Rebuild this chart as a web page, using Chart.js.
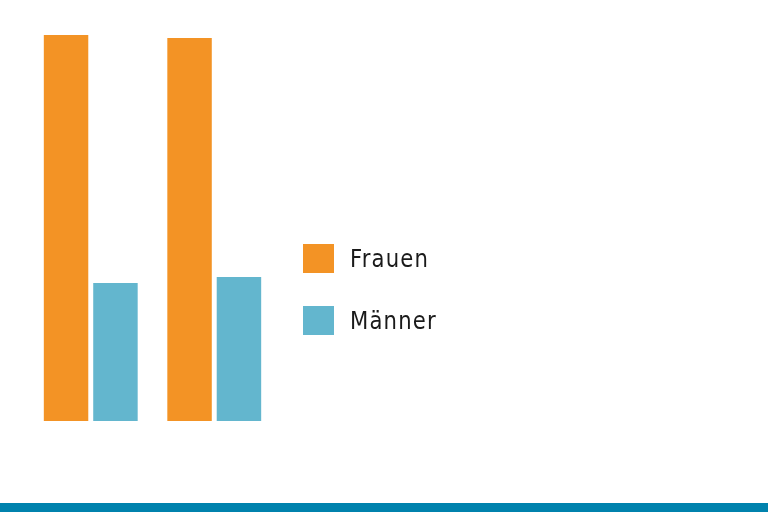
<!DOCTYPE html>
<html>
<head>
<meta charset="utf-8">
<script src="https://cdn.jsdelivr.net/npm/chart.js@4/dist/chart.umd.min.js"></script>
<style>
  html, body { margin: 0; padding: 0; background: #fff; }
  #wrap { position: relative; width: 768px; height: 512px; }
  #band { position: absolute; left: 0; bottom: 0; width: 768px; height: 9px; background: #0082ad; }
</style>
</head>
<body>
<div id="wrap">
  <canvas id="grafico" width="768" height="512"></canvas>
  <div id="band"></div>
</div>
<script>
// Daten (Werte aus dem Bild geschätzt)
const gruppen = ['A', 'B'];
const frauen = [38.6, 38.3];
const maenner = [13.8, 14.4];
const serien = ['Frauen', 'Männer'];
const farben = ['#f39325', '#63b6ce'];

// Legende rechts neben den Balken
const legendePlugin = {
    id: 'legende',
    afterDraw(chart) {
        const ctx = chart.ctx;
        chart.data.datasets.forEach((ds, i) => {
            const y = 244 + i * 62;
            ctx.save();
            ctx.fillStyle = ds.backgroundColor;
            ctx.fillRect(303, y, 31, 29);
            // schmale Schrift nachahmen
            ctx.translate(350, y + 23);
            ctx.scale(0.98, 1);
            ctx.font = '24px "DejaVu Sans Condensed", "DejaVu Sans", sans-serif';
            ctx.letterSpacing = '1.2px';
            ctx.fillStyle = '#1a1a1a';
            ctx.fillText(ds.label, 0, 0);
            ctx.restore();
        });
    }
};

const ctx = document.getElementById('grafico').getContext('2d');
const grafico = new Chart(ctx, {
    type: 'bar',
    data: {
        labels: gruppen,
        datasets: [{
            label: serien[0],
            data: frauen,
            backgroundColor: farben[0]
        }, {
            label: serien[1],
            data: maenner,
            backgroundColor: farben[1]
        }]
    },
    options: {
        responsive: false,
        animation: false,
        layout: {
            padding: { left: 29, right: 492, top: 35, bottom: 91 }
        },
        datasets: {
            bar: { categoryPercentage: 0.8, barPercentage: 0.9 }
        },
        plugins: {
            legend: { display: false },
            tooltip: { enabled: false }
        },
        scales: {
            x: { display: false },
            y: { display: false, min: 0, max: 38.6 }
        }
    },
    plugins: [legendePlugin]
});
</script>
</body>
</html>
